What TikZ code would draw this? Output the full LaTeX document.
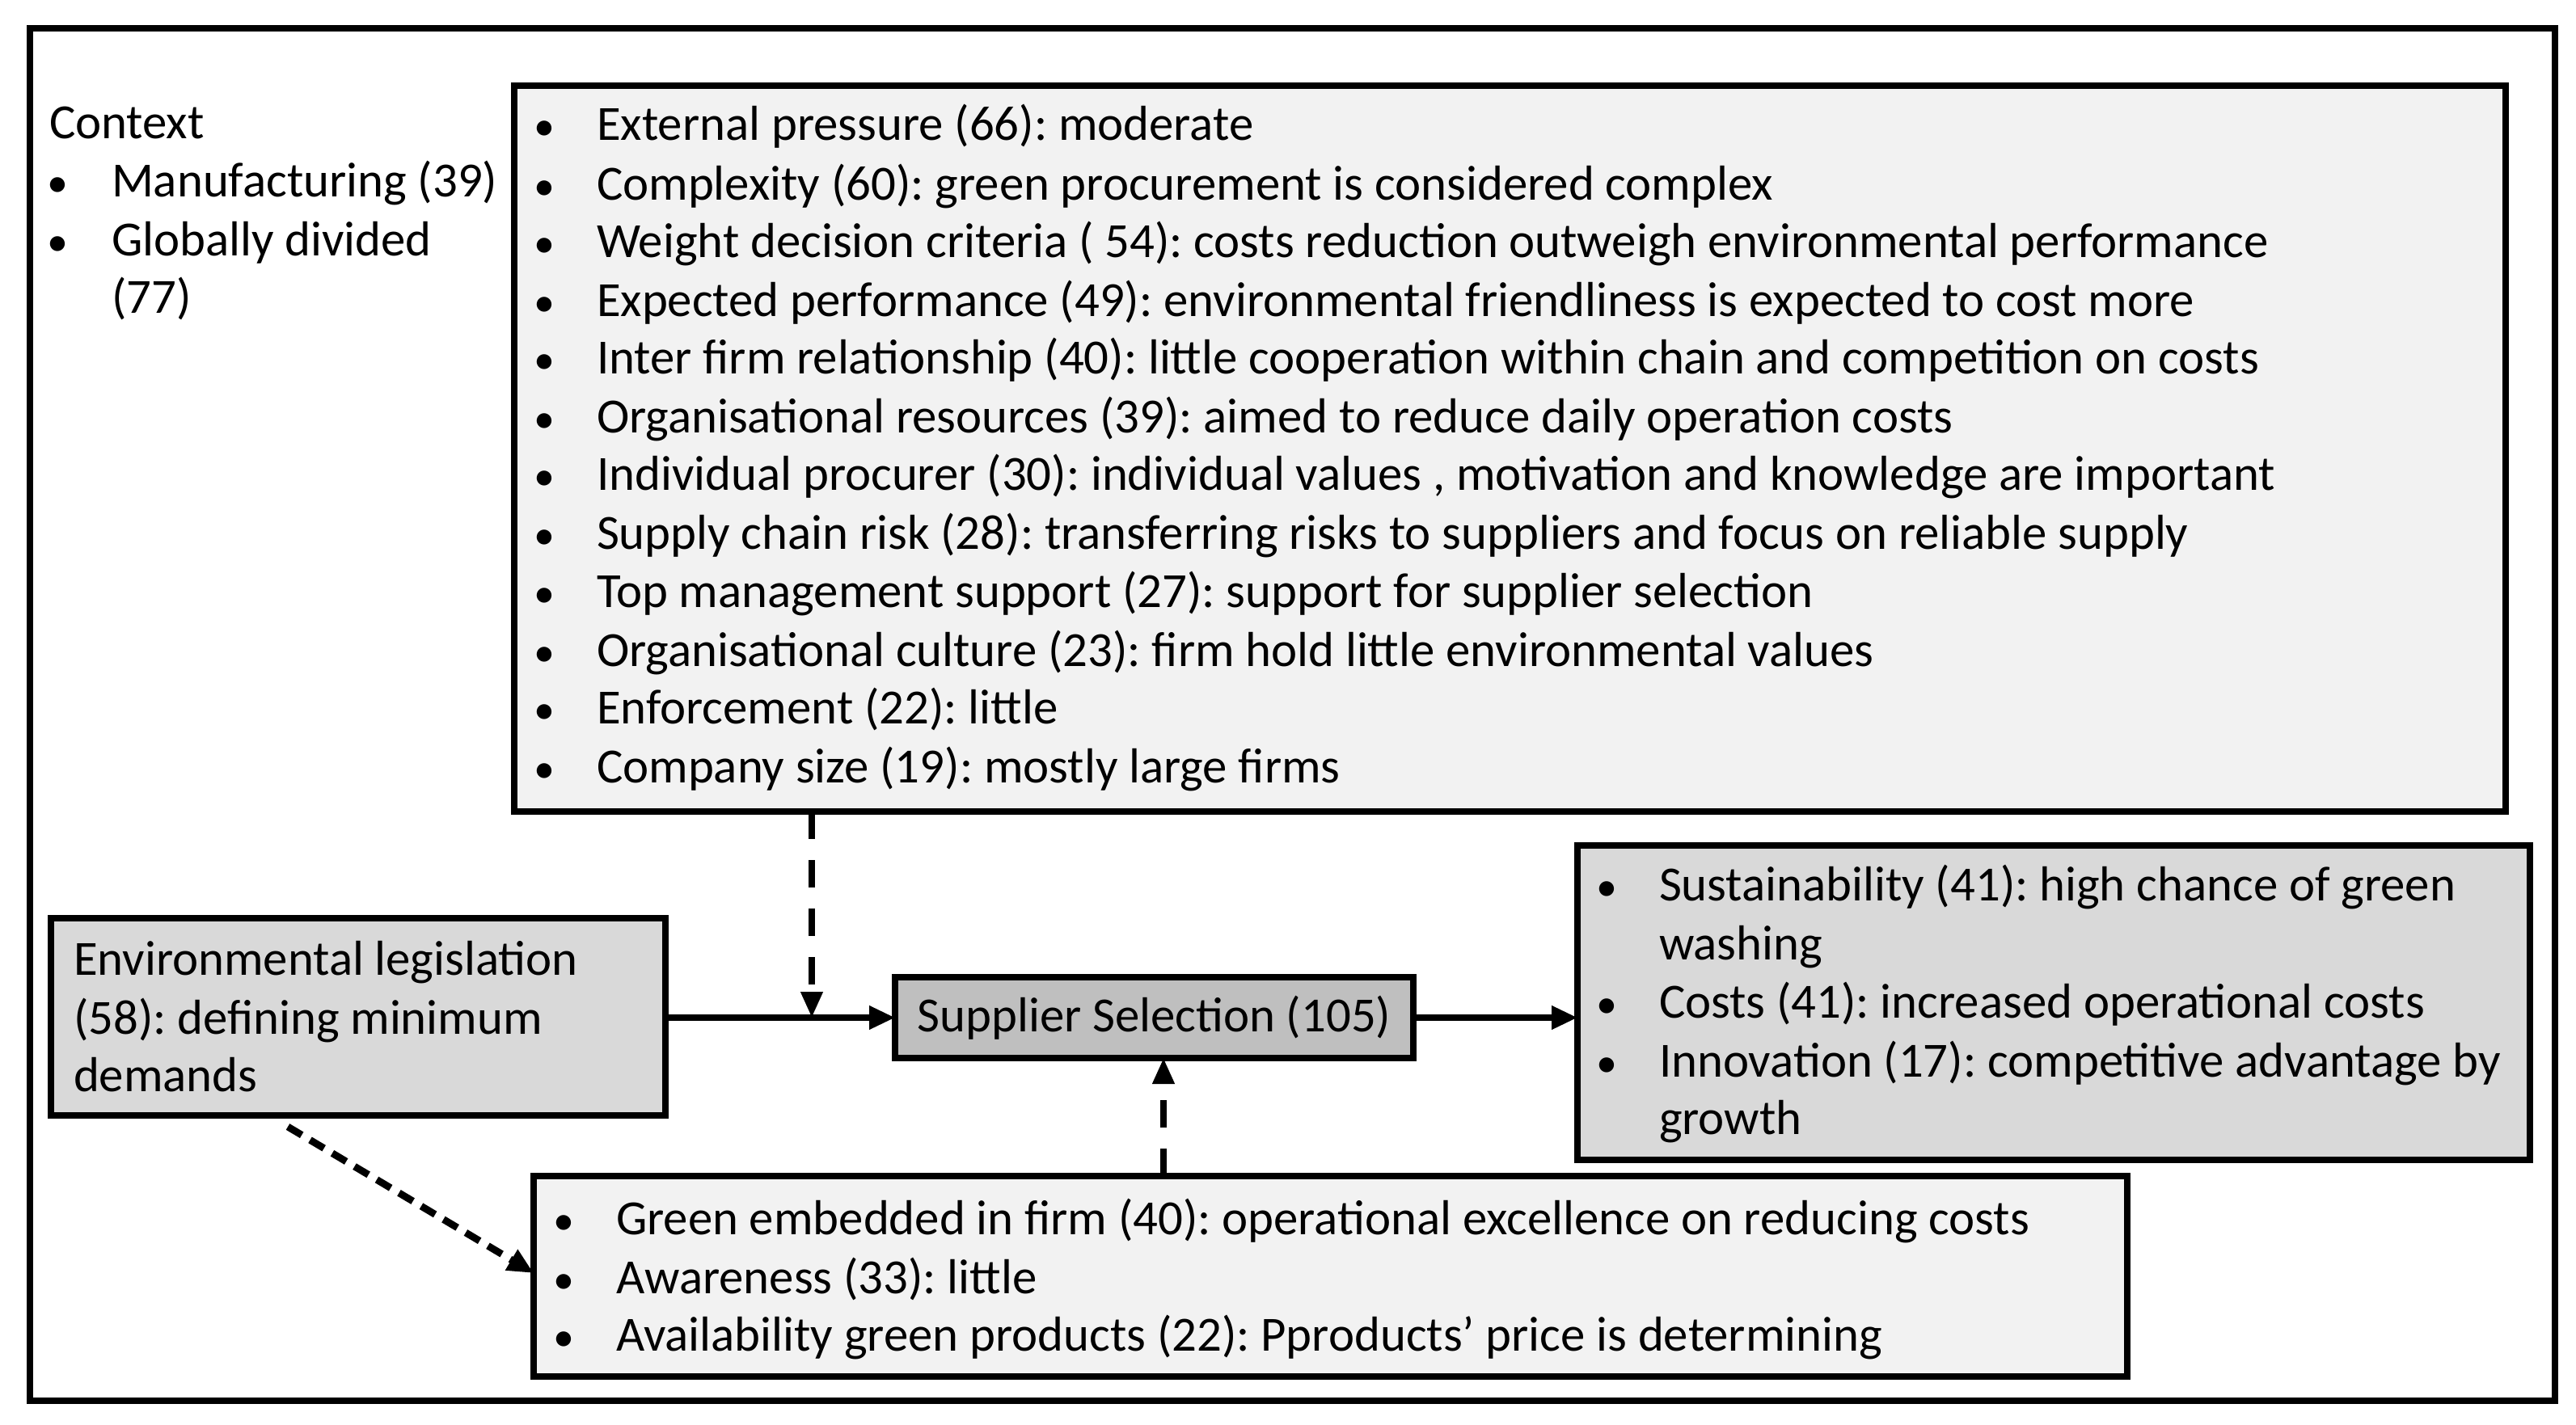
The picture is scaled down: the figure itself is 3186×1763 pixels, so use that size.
\documentclass[tikz,border=0pt]{standalone}
\usepackage{fontspec}
\setmainfont{Carlito}
\usetikzlibrary{arrows.meta}
\frenchspacing
\begin{document}
\begin{tikzpicture}[x=0.25pt,y=-0.25pt,
  box/.style={draw=black,line width=2.2pt,inner sep=0pt,outer sep=0pt,rectangle},
  txt/.style={font=\fontsize{15.2}{18}\selectfont,inner sep=0pt,outer sep=0pt,text height=9.7pt,text depth=0pt,anchor=west},
  bul/.style={font=\fontsize{13}{18}\selectfont,inner sep=0pt,text height=9.7pt,text depth=0pt,anchor=center},
  solidarrow/.style={line width=1.8pt,-{Triangle[length=8pt,width=7pt]}},
  dasharrow/.style={line width=1.8pt,dash pattern=on 8.5pt off 6.5pt,-{Triangle[length=8pt,width=6.5pt]}},
  dasharrowb/.style={line width=2.2pt,dash pattern=on 5pt off 3pt,-{Triangle[length=8pt,width=7pt]}}]
\useasboundingbox (0,0) rectangle (3186,1763);
\draw[line width=2.2pt] (37,35) rectangle (3160,1733);
% boxes
\node[box,fill=black!5,minimum width=2463*0.25pt,minimum height=898*0.25pt] (top) at (1867.5,555) {};
\node[box,fill=black!15,minimum width=760*0.25pt,minimum height=244*0.25pt] (env) at (443,1258) {};
\node[box,fill=black!25,minimum width=641*0.25pt,minimum height=100*0.25pt,font=\fontsize{15.2}{18}\selectfont] (sup) at (1427.5,1259) {Supplier Selection (105)};
\node[box,fill=black!15,minimum width=1178*0.25pt,minimum height=389*0.25pt] (out) at (2540,1240.5) {};
\node[box,fill=black!5,minimum width=1971*0.25pt,minimum height=248*0.25pt] (bot) at (1645.5,1579) {};
% context
\node[txt] (c0) at (61,152) {Context};
\node[bul] (cb1) at (71,224) {•};
\node[txt] (c1) at (138,224) {Manufacturing (39)};
\node[bul] (cb2) at (71,297) {•};
\node[txt] (c2) at (138,297) {Globally divided};
\node[txt] (c3) at (138,368) {(77)};
% top box lines
\foreach \y/\t [count=\i] in {
154/{External pressure (66): moderate},
228/{Complexity (60): green procurement is considered complex},
299/{Weight decision criteria ( 54): costs reduction outweigh environmental performance},
372/{Expected performance (49): environmental friendliness is expected to cost more},
443/{Inter firm relationship (40): little cooperation within chain and competition on costs},
516/{Organisational resources (39): aimed to reduce daily operation costs},
587/{Individual procurer (30): individual values , motivation and knowledge are important},
660/{Supply chain risk (28): transferring risks to suppliers and focus on reliable supply},
732/{Top management support (27): support for supplier selection},
805/{Organisational culture (23): firm hold little environmental values},
876/{Enforcement (22): little},
949/{Company size (19): mostly large firms}}{
  \node[bul] (tb\i) at (673,\y) {•};
  \node[txt] (t\i) at (738,\y) {\t};
}
% env text
\node[txt] (e1) at (91,1187) {Environmental legislation};
\node[txt] (e2) at (91,1260) {(58): defining minimum};
\node[txt] (e3) at (91,1331) {demands};
% outcome text
\node[bul] (ob1) at (1987,1095) {•};
\node[txt] (o1) at (2052,1095) {Sustainability (41): high chance of green};
\node[txt] (o1b) at (2052,1168) {washing};
\node[bul] (ob2) at (1987,1240) {•};
\node[txt] (o2) at (2052,1240) {Costs (41): increased operational costs};
\node[bul] (ob3) at (1987,1313) {•};
\node[txt] (o3) at (2052,1313) {Innovation (17): competitive advantage by};
\node[txt] (o3b) at (2052,1384) {growth};
% bottom text
\node[bul] (bb1) at (697,1508) {•};
\node[txt] (b1) at (762,1508) {Green embedded in firm (40): operational excellence on reducing costs};
\node[bul] (bb2) at (697,1581) {•};
\node[txt] (b2) at (762,1581) {Awareness (33): little};
\node[bul] (bb3) at (697,1652) {•};
\node[txt] (b3) at (762,1652) {Availability green products (22): Pproducts’ price is determining};
% connectors
\coordinate (j) at (1004,1259);
\draw[solidarrow] (env.east |- sup.west) -- (sup.west);
\draw[solidarrow] (sup.east) -- (out.west |- sup.east);
\draw[dasharrow] (j |- top.south) -- (j);
\draw[dasharrow] (1439,1455) -- (1439,1309);
\coordinate (ds) at (356,1394);
\draw[dasharrowb] (ds) -- (bot.west |- 0,1575);
\end{tikzpicture}
\end{document}
